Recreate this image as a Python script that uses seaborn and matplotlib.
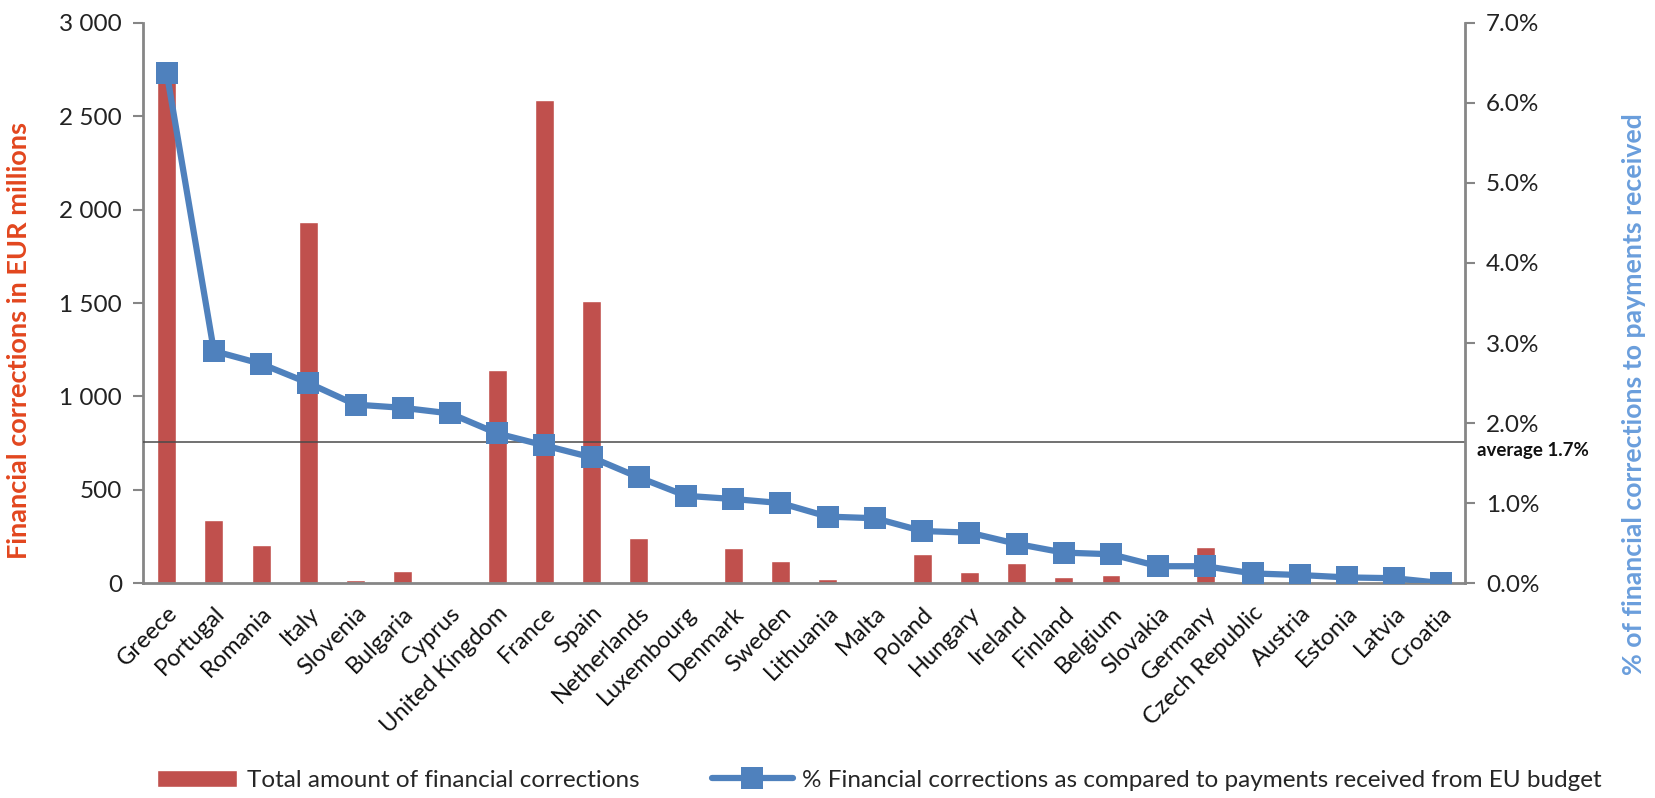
import numpy as np
import pandas as pd
import matplotlib
matplotlib.use("Agg")
import matplotlib.pyplot as plt
import seaborn as sns
from matplotlib.ticker import FuncFormatter

# Negara (urutan sesuai grafik)
countries = [
    "Greece", "Portugal", "Romania", "Italy", "Slovenia", "Bulgaria", "Cyprus",
    "United Kingdom", "France", "Spain", "Netherlands", "Luxembourg", "Denmark",
    "Sweden", "Lithuania", "Malta", "Poland", "Hungary", "Ireland", "Finland",
    "Belgium", "Slovakia", "Germany", "Czech Republic", "Austria", "Estonia",
    "Latvia", "Croatia",
]

# Total koreksi keuangan (EUR juta)
amounts = [2740, 337, 204, 1933, 16, 67, 5, 1143, 2590, 1510, 239, 0, 190,
           118, 20, 0, 153, 61, 106, 31, 41, 3, 194, 12, 8, 6, 4, 0]

# % koreksi terhadap pembayaran dari anggaran UE
pct = [6.38, 2.90, 2.74, 2.50, 2.23, 2.19, 2.12, 1.87, 1.72, 1.57, 1.32,
       1.09, 1.05, 1.00, 0.83, 0.81, 0.65, 0.63, 0.49, 0.38, 0.36, 0.21,
       0.21, 0.12, 0.10, 0.07, 0.06, 0.00]

average_pct = 1.76

df = pd.DataFrame({"Country": countries, "Amount": amounts,
                   "Pct": np.array(pct) / 100})

sns.set_style("white")
plt.rcParams["font.family"] = ["Lato", "DejaVu Sans"]

bar_color = "#C0504D"
line_color = "#4F81BD"
spine_color = "#868686"

fig = plt.figure(figsize=(16.56, 7.98), dpi=100)
ax = fig.add_axes([0.0864, 0.2694, 0.7983, 0.7018])

sns.barplot(data=df, x="Country", y="Amount", color=bar_color, width=0.4,
            saturation=1, ax=ax, zorder=1)

ax2 = ax.twinx()
sns.pointplot(data=df, x="Country", y="Pct", color=line_color, markers="s",
              errorbar=None, ax=ax2)
line = ax2.lines[0]
line.set_linewidth(4.5)
line.set_markersize(16)
line.set_markeredgewidth(0)
line.set_zorder(3)
ax2.axhline(average_pct / 100, color="#4a4a4a", lw=1.1, zorder=1.5)

ax.set_xlim(-0.5, len(countries) - 0.5)
ax.set_ylim(0, 3000)
ax2.set_ylim(0, 0.07)
ax.set_yticks(np.arange(0, 3001, 500))
ax2.set_yticks(np.arange(0, 0.0701, 0.01))
ax.yaxis.set_major_formatter(FuncFormatter(lambda v, p: f"{int(v):,}".replace(",", " ")))
ax2.yaxis.set_major_formatter(FuncFormatter(lambda v, p: f"{v*100:.1f}%"))

ax.set_xticks(range(len(countries)))
ax.set_xticklabels(countries, rotation=45, ha="right", rotation_mode="anchor")
ax.set_xlabel("")
ax.set_ylabel("")
ax2.set_xlabel("")
ax2.set_ylabel("")

ax.tick_params(axis="x", length=0, pad=14, labelsize=17, labelcolor="#111111")
ax.tick_params(axis="y", length=7, width=1.5, color=spine_color, labelsize=17.5,
               labelcolor="#222222", direction="out", left=True, pad=8)
ax2.tick_params(axis="y", length=7, width=1.5, color=spine_color, labelsize=17.5,
                labelcolor="#222222", direction="out", right=True, pad=8)

for a in (ax, ax2):
    a.spines["top"].set_visible(False)
    for s in ("left", "right", "bottom"):
        a.spines[s].set_color(spine_color)
        a.spines[s].set_linewidth(2)
ax.spines["right"].set_visible(False)
ax2.spines["left"].set_visible(False)
ax2.spines["bottom"].set_visible(False)

ax2.text(len(countries) - 0.5 + 0.25, average_pct / 100, "average 1.7%",
         ha="left", va="top", fontsize=13.5, fontweight="bold", color="#111111")

fig.text(0.0115, 0.573, "Financial corrections in EUR millions", rotation=90,
         ha="center", va="center", fontsize=19.5, fontweight="bold", color="#E2461E")
fig.text(0.9867, 0.506, "% of financial corrections to payments received",
         rotation=90, ha="center", va="center", fontsize=19.2, fontweight="bold",
         color="#6A9EDC")

handles = [ax.patches[0], line]
labels = ["Total amount of financial corrections",
          "% Financial corrections as compared to payments received from EU budget"]
fig.legend(handles, labels, loc="center", bbox_to_anchor=(0.531, 0.022),
           ncol=2, frameon=False, fontsize=17.5, handlelength=3.3,
           handletextpad=0.4, columnspacing=3.0, handleheight=0.7)

fig.savefig("out.png", dpi=100)
